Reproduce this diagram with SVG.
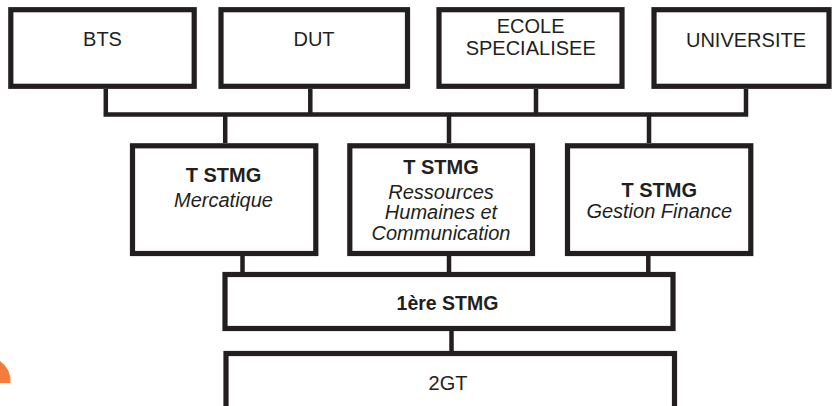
<svg xmlns="http://www.w3.org/2000/svg" width="834" height="406" viewBox="0 0 834 406">
<style>
.box{fill:#ffffff;stroke:#231f20;stroke-width:5.2}
.ln{fill:none;stroke:#231f20;stroke-width:4.5}
text{font-family:"Liberation Sans",Arial,sans-serif;font-size:20px;fill:#231f20;text-anchor:middle}
.b{font-weight:bold}
.i{font-style:italic}
</style>
<rect width="834" height="406" fill="#ffffff"/>
<path d="M0,361 A24,24 0 0 1 10.5,383 L0,383 Z" fill="#f47c3c"/>
<g id="connectors">
<path class="ln" d="M105.8,89 V114.5 M310.3,89 V114.5 M536,89 V114.5 M746,89 V114.5 M103.5,114.5 H748.2"/>
<path class="ln" d="M225.2,114.5 V143 M449,114.5 V143 M649,114.5 V143"/>
<path class="ln" d="M242.5,256 V272 M449,256 V272 M648.3,256 V272"/>
<path class="ln" d="M451.5,331 V351"/>
</g>
<g id="bts"><rect class="box" x="10.8" y="9.7" width="183.4" height="76.6"/><text x="102.5" y="46">BTS</text></g>
<g id="dut"><rect class="box" x="221" y="9.7" width="186.5" height="76.6"/><text x="314" y="46">DUT</text></g>
<g id="ecole"><rect class="box" x="439" y="9.7" width="183" height="76.6"/><text x="530.7" y="33">ECOLE</text><text x="530.7" y="55">SPECIALISEE</text></g>
<g id="universite"><rect class="box" x="654" y="9.7" width="175" height="76.6"/><text x="746" y="46.5">UNIVERSITE</text></g>
<g id="mercatique"><rect class="box" x="132.5" y="145.8" width="183.3" height="107.7"/><text class="b" x="223.5" y="181.7">T STMG</text><text class="i" x="223.5" y="207.3">Mercatique</text></g>
<g id="rh"><rect class="box" x="349.8" y="145.8" width="182.7" height="107.7"/><text class="b" x="441" y="174">T STMG</text><text class="i" x="441" y="198.5">Ressources</text><text class="i" x="441" y="219">Humaines et</text><text class="i" x="441" y="239.5">Communication</text></g>
<g id="gestion"><rect class="box" x="567.5" y="145.8" width="183.3" height="107.7"/><text class="b" x="659.2" y="197">T STMG</text><text class="i" x="659.2" y="217.5">Gestion Finance</text></g>
<g id="premiere"><rect class="box" x="225" y="274.5" width="448" height="54"/><text class="b" x="447.5" y="310" style="font-size:19.5px">1ère STMG</text></g>
<g id="seconde"><rect class="box" x="226" y="353.5" width="448.5" height="60"/><text x="448" y="390">2GT</text></g>
</svg>
